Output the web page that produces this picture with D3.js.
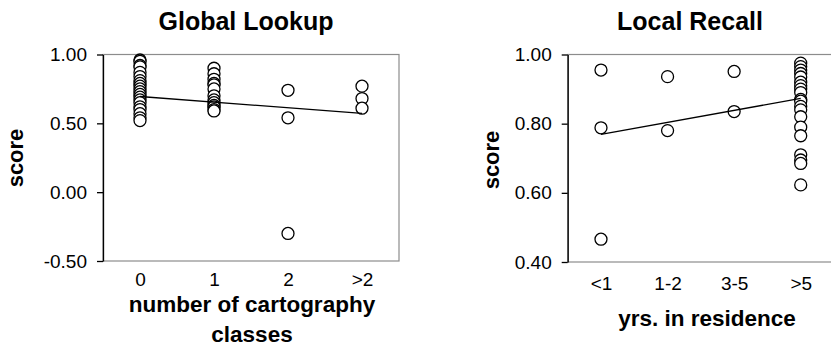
<!DOCTYPE html>
<html>
<head>
<meta charset="utf-8">
<script src="https://cdn.jsdelivr.net/npm/d3@7"></script>
<style>
  body { margin: 0; background: #fff; }
  svg { display: block; font-family: "Liberation Sans", Arial, Helvetica, sans-serif; }
</style>
</head>
<body>
<div id="chart"></div>
<script>
  var width = 831;
  var height = 358;

  // ---- Global Lookup data ----
  var globalCats = ["0", "1", "2", ">2"];
  var globalScores = [
    [0.96, 0.95, 0.92, 0.91, 0.87, 0.84, 0.81, 0.79, 0.77, 0.75, 0.73, 0.71, 0.69, 0.67, 0.65, 0.62, 0.60, 0.57, 0.54, 0.52],
    [0.90, 0.86, 0.82, 0.79, 0.78, 0.75, 0.70, 0.67, 0.65, 0.63, 0.62, 0.60, 0.59],
    [0.74, 0.54, -0.30],
    [0.77, 0.68, 0.61]
  ];
  var globalTrend = [0.695, 0.572]; // fitted value at first and last category
  var globalTicks = [1.00, 0.50, 0.00, -0.50];

  // ---- Local Recall data ----
  var localCats = ["<1", "1-2", "3-5", ">5"];
  var localScores = [
    [0.955, 0.788, 0.466],
    [0.936, 0.780],
    [0.951, 0.835],
    [0.975, 0.965, 0.955, 0.945, 0.935, 0.92, 0.91, 0.90, 0.89, 0.87, 0.865, 0.85, 0.84, 0.82, 0.79, 0.765, 0.71, 0.695, 0.685, 0.623]
  ];
  var localTrend = [0.769, 0.873];
  var localTicks = [1.00, 0.80, 0.60, 0.40];

  var fmt = d3.formatLocale({decimal: ".", thousands: ",", grouping: [3], currency: ["", ""], minus: "-"}).format(".2f");

  var svg = d3.select("#chart")
    .append("svg")
    .attr("width", width)
    .attr("height", height);

  function panel(opt) {
    var x = d3.scalePoint()
      .domain(opt.cats)
      .range([opt.left, opt.right])
      .padding(0.5);

    var y = d3.scaleLinear()
      .domain(opt.yDomain)
      .range([opt.bottom, opt.top]);

    var g = svg.append("g");

    // gray frame
    g.append("rect")
      .attr("x", opt.left)
      .attr("y", opt.top)
      .attr("width", opt.right - opt.left)
      .attr("height", opt.bottom - opt.top)
      .attr("fill", "none")
      .attr("stroke", "#8c8c8c")
      .attr("stroke-width", 1.2);

    // x labels, no tick marks
    var xAxis = g.append("g")
      .attr("transform", "translate(0," + opt.bottom + ")")
      .call(d3.axisBottom(x).tickSize(0).tickPadding(opt.xPad));
    xAxis.select(".domain").remove();
    xAxis.selectAll("text")
      .attr("font-size", 19)
      .attr("font-family", "Liberation Sans, Arial, sans-serif")
      .attr("fill", "#000");

    // y axis
    var yAxis = g.append("g")
      .attr("transform", "translate(" + opt.left + ",0)")
      .call(d3.axisLeft(y).tickValues(opt.ticks).tickFormat(fmt).tickSize(6).tickSizeOuter(0).tickPadding(10));
    yAxis.select(".domain").attr("stroke", "#000").attr("stroke-width", 1.3);
    yAxis.selectAll(".tick line").attr("stroke", "#000").attr("stroke-width", 1.3);
    yAxis.selectAll("text")
      .attr("font-size", 19)
      .attr("font-family", "Liberation Sans, Arial, sans-serif")
      .attr("fill", "#000");

    // points
    var pts = [];
    opt.scores.forEach(function(list, i) {
      list.forEach(function(v) { pts.push({cat: opt.cats[i], v: v}); });
    });

    g.selectAll(".pt")
      .data(pts)
      .enter().append("circle")
      .attr("class", "pt")
      .attr("cx", function(d) { return x(d.cat); })
      .attr("cy", function(d) { return y(d.v); })
      .attr("r", 6)
      .attr("fill", "#fff")
      .attr("stroke", "#000")
      .attr("stroke-width", 1.3);

    // trend line
    var trend = [
      {cat: opt.cats[0], v: opt.trend[0]},
      {cat: opt.cats[opt.cats.length - 1], v: opt.trend[1]}
    ];
    g.append("path")
      .datum(trend)
      .attr("fill", "none")
      .attr("stroke", "#000")
      .attr("stroke-width", 1.3)
      .attr("d", d3.line()
        .x(function(d) { return x(d.cat); })
        .y(function(d) { return y(d.v); }));

    // title
    g.append("text")
      .attr("x", opt.titleX)
      .attr("y", 30)
      .attr("text-anchor", "middle")
      .attr("font-size", 25)
      .attr("font-weight", "bold")
      .text(opt.title);

    // y title
    g.append("text")
      .attr("transform", "translate(" + opt.yTitleX + "," + opt.yTitleY + ") rotate(-90)")
      .attr("text-anchor", "middle")
      .attr("dy", "0.35em")
      .attr("font-size", 22)
      .attr("font-weight", "bold")
      .text("score");

    // x title (can wrap onto two lines)
    opt.xTitle.forEach(function(line, i) {
      g.append("text")
        .attr("x", opt.xTitleX)
        .attr("y", opt.xTitleY + i * 30)
        .attr("text-anchor", "middle")
        .attr("font-size", 22.5)
        .attr("font-weight", "bold")
        .text(line);
    });
  }

  panel({
    cats: globalCats, scores: globalScores, trend: globalTrend, ticks: globalTicks,
    yDomain: [-0.5, 1.0],
    left: 103, right: 399, top: 54.5, bottom: 261,
    xPad: 11.5,
    title: "Global Lookup", titleX: 246,
    yTitleX: 15.5, yTitleY: 158,
    xTitle: ["number of cartography", "classes"], xTitleX: 252, xTitleY: 312
  });

  panel({
    cats: localCats, scores: localScores, trend: localTrend, ticks: localTicks,
    yDomain: [0.4, 1.0],
    left: 567.7, right: 834, top: 54.5, bottom: 262,
    xPad: 14.5,
    title: "Local Recall", titleX: 690,
    yTitleX: 491.5, yTitleY: 160,
    xTitle: ["yrs. in residence"], xTitleX: 707, xTitleY: 326
  });
</script>
</body>
</html>
